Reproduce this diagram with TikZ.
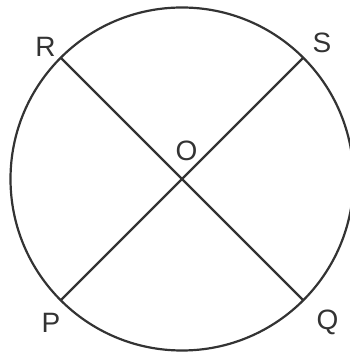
\documentclass[tikz,border=0pt]{standalone}
\usepackage{fontspec}
\setmainfont{Liberation Sans}
\definecolor{ink}{HTML}{333333}
\begin{document}
\begin{tikzpicture}[x=1pt,y=1pt,
  geo/.style={draw=ink,line width=2.2pt},
  lbl/.style={text=ink,font=\fontsize{28}{28}\selectfont,inner sep=0pt}]
\useasboundingbox (0,0) rectangle (349,352);
\coordinate (O) at (182,173);
\draw[geo] (O) circle (171.5);
\path (O) ++(135:171.5) coordinate (R);
\path (O) ++(45:171.5) coordinate (S);
\path (O) ++(225:171.5) coordinate (P);
\path (O) ++(-45:171.5) coordinate (Q);
\draw[geo] (R) -- (Q);
\draw[geo] (S) -- (P);
\node[lbl] (lR) at (45.5,305) {R};
\node[lbl] (lS) at (322,309.5) {S};
\node[lbl] (lO) at (186.5,201) {O};
\node[lbl] (lP) at (51,29) {P};
\node[lbl] (lQ) at (327.5,30) {Q};
\end{tikzpicture}
\end{document}
